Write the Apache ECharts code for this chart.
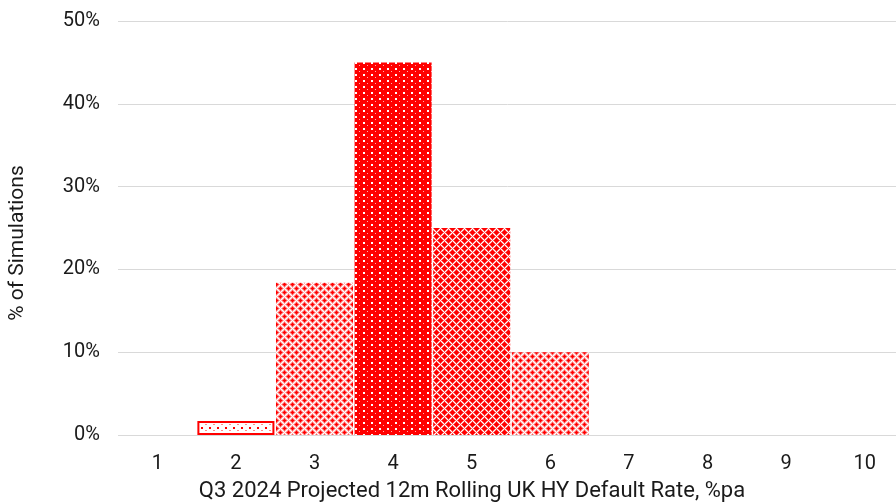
<!DOCTYPE html>
<html>
<head>
<meta charset="utf-8">
<script src="https://cdn.jsdelivr.net/npm/echarts@6/dist/echarts.min.js"></script>
<style>
  html, body { margin: 0; padding: 0; background: #fff; }
  #chart { width: 896px; height: 502px; }
</style>
</head>
<body>
<div id="chart"></div>
<script>
// Default-rate buckets (%pa) and share of simulations in each bucket (%)
const categories = ['1', '2', '3', '4', '5', '6', '7', '8', '9', '10'];
const simShare = [null, 1.7, 18.4, 45.0, 25.0, 10.0, null, null, null, null];
const yTicks = [0, 10, 20, 30, 40, 50];
// Fill style for each bucket: sparse, light, solid, dense
const fillKind = [null, 'sparse', 'light', 'solid', 'dense', 'light', null, null, null, null];

const RED = '#ff0000';
const FONT = 'Roboto';
const TEXT = '#1a1a1a';

// Manhattan distance from pixel to the nearest point of a diamond lattice (period 8)
function latticeDist(x, y) {
  const pts = [[0, 0], [4, 4], [8, 0], [0, 8], [8, 8]];
  let best = 99;
  for (const [px, py] of pts) {
    best = Math.min(best, Math.abs(x - px) + Math.abs(y - py));
  }
  return best;
}

// Small repeating tiles used as bar fills
function makeTile(kind) {
  const c = document.createElement('canvas');
  const ctx = c.getContext('2d');
  if (kind === 'sparse') {
    c.width = 8; c.height = 6;
    ctx.fillStyle = '#ffffff'; ctx.fillRect(0, 0, 8, 6);
    ctx.fillStyle = RED; ctx.fillRect(1, 1, 2, 2);
    ctx.fillStyle = '#ff8a8a'; ctx.fillRect(5, 4, 2, 1);
  } else if (kind === 'solid') {
    c.width = 8; c.height = 6;
    ctx.fillStyle = RED; ctx.fillRect(0, 0, 8, 6);
    ctx.fillStyle = '#ffffff'; ctx.fillRect(3, 2, 2, 2);
    ctx.fillStyle = '#ffb0b0'; ctx.fillRect(7, 5, 1, 1);
  } else {
    c.width = 8; c.height = 8;
    for (let y = 0; y < 8; y++) {
      for (let x = 0; x < 8; x++) {
        const d = latticeDist(x, y);
        let col;
        if (kind === 'light') {
          col = d <= 1 ? RED : d === 2 ? '#ff5a5a' : d === 3 ? '#ffb4b4' : '#ffffff';
        } else {
          col = d <= 2 ? RED : d === 3 ? '#ff6a6a' : '#ffffff';
        }
        ctx.fillStyle = col;
        ctx.fillRect(x, y, 1, 1);
      }
    }
  }
  return c;
}

const barData = simShare.map((v, i) => {
  if (v === null) return '-';
  const item = {
    value: v,
    itemStyle: { color: { image: makeTile(fillKind[i]), repeat: 'repeat' } }
  };
  if (fillKind[i] === 'sparse') {
    item.itemStyle.borderColor = RED;
    item.itemStyle.borderWidth = 2;
  }
  return item;
});

const chart = echarts.init(document.getElementById('chart'), null, { renderer: 'canvas' });
chart.setOption({
  animation: false,
  textStyle: { fontFamily: FONT },
  grid: {
    left: 118, top: 21, width: 786, height: 414,
    containLabel: false,
    outerBoundsMode: 'none'
  },
  xAxis: {
    type: 'category',
    data: categories,
    axisLine: { show: false },
    axisTick: { show: false },
    axisLabel: { color: TEXT, fontSize: 20, margin: 19, fontFamily: FONT },
    name: 'Q3 2024 Projected 12m Rolling UK HY Default Rate, %pa',
    nameLocation: 'middle',
    nameGap: 45,
    nameTextStyle: { color: TEXT, fontSize: 22, fontFamily: FONT, padding: [0, 78, 0, 0] }
  },
  yAxis: {
    type: 'value',
    min: yTicks[0],
    max: yTicks[yTicks.length - 1],
    interval: 10,
    axisLine: { show: false },
    axisTick: { show: false },
    splitLine: { lineStyle: { color: '#d9d9d9', width: 1 } },
    axisLabel: { color: TEXT, fontSize: 20, margin: 18, formatter: '{value}%', fontFamily: FONT },
    name: '% of Simulations',
    nameLocation: 'middle',
    nameGap: 90,
    nameTextStyle: { color: TEXT, fontSize: 21, fontFamily: FONT, padding: [0, 30, 0, 0] }
  },
  series: [{
    type: 'bar',
    data: barData,
    barCategoryGap: '2%'
  }]
});
</script>
</body>
</html>
